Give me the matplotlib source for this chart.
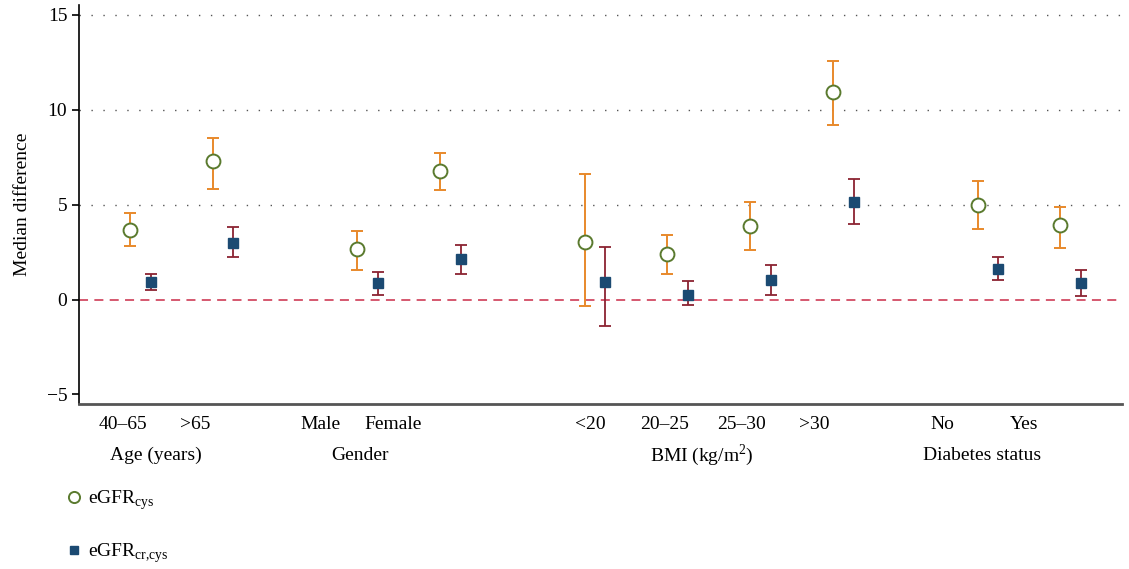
import matplotlib.pyplot as plt

plt.rcParams['font.family'] = ['Liberation Serif', 'DejaVu Serif']
plt.rcParams['mathtext.fontset'] = 'custom'
plt.rcParams['mathtext.rm'] = 'Liberation Serif'

# categories and their x positions (grouped)
categories = ['40–65', '>65', 'Male', 'Female', '<20', '20–25', '25–30', '>30', 'No', 'Yes']
xpos = [0, 1, 2.75, 3.75, 5.5, 6.5, 7.5, 8.5, 10.25, 11.25]
groups = ['Age (years)', 'Gender', 'BMI (kg/m$^{2}$)', 'Diabetes status']

# eGFR_cys: median difference with CI
cys_med = [3.65, 7.30, 2.68, 6.79, 3.04, 2.42, 3.89, 10.95, 4.96, 3.91]
cys_lo = [2.84, 5.84, 1.58, 5.79, -0.35, 1.37, 2.63, 9.21, 3.72, 2.72]
cys_hi = [4.56, 8.51, 3.63, 7.74, 6.60, 3.42, 5.12, 12.54, 6.25, 4.88]

# eGFR_cr,cys
crc_med = [0.93, 3.00, 0.88, 2.14, 0.91, 0.26, 1.04, 5.16, 1.63, 0.89]
crc_lo = [0.49, 2.26, 0.26, 1.32, -1.40, -0.30, 0.26, 3.98, 1.05, 0.16]
crc_hi = [1.37, 3.81, 1.46, 2.86, 2.75, 0.95, 1.81, 6.32, 2.26, 1.58]

fig = plt.figure(figsize=(11.29, 5.69), dpi=100)
ax = fig.add_axes([0.070, 0.29, 0.924, 0.701])

for yv in [5, 10, 15]:
    ax.axhline(yv, color='#555555', lw=1.0, dashes=(1, 7.6), zorder=0)
ax.axhline(0, color='#d24b63', lw=1.3, dashes=(5, 3.5), zorder=1)

off = 0.25
x1 = list(xpos)
x2 = [x + off for x in xpos]

ax.errorbar(x1, cys_med,
            yerr=[[m - l for m, l in zip(cys_med, cys_lo)],
                  [h - m for m, h in zip(cys_med, cys_hi)]],
            fmt='none', ecolor='#e8892b', elinewidth=1.4, capsize=4, capthick=1.4, zorder=2)
p1, = ax.plot(x1, cys_med, 'o', ms=10, mfc='white', mec='#5a7a2e', mew=1.4,
              ls='none', zorder=3, label=r'eGFR$_{\mathregular{cys}}$')

ax.errorbar(x2, crc_med,
            yerr=[[m - l for m, l in zip(crc_med, crc_lo)],
                  [h - m for m, h in zip(crc_med, crc_hi)]],
            fmt='none', ecolor='#8b2332', elinewidth=1.3, capsize=4, capthick=1.3, zorder=2)
p2, = ax.plot(x2, crc_med, 's', ms=6.5, mfc='#1b4a72', mec='#1b4a72',
              ls='none', zorder=3, label=r'eGFR$_{\mathregular{cr{,}cys}}$')

ax.set_xlim(-0.617, 12.0)
ax.set_ylim(-5.5, 15.5)
ax.set_yticks([-5, 0, 5, 10, 15])
ax.set_yticklabels(['\u22125', '0', '5', '10', '15'])
ax.tick_params(axis='y', labelsize=14, length=5, width=1.2, direction='out')
ax.set_ylabel('Median difference', fontsize=14, labelpad=11)

# tick labels sit slightly left of the points in the original
label_x = [-0.085, 0.786, 2.30, 3.18, 5.57, 6.47, 7.39, 8.28, 9.83, 10.81]
ax.set_xticks(label_x)
ax.set_xticklabels(categories)
ax.tick_params(axis='x', labelsize=14, length=0, pad=9)

group_x = [0.31, 2.78, 6.92, 10.31]
for gx, g in zip(group_x, groups):
    ax.text(gx, -8.2, g, ha='center', va='center', fontsize=14)

ax.spines['top'].set_visible(False)
ax.spines['right'].set_visible(False)
ax.spines['left'].set_linewidth(1.2)
ax.spines['bottom'].set_linewidth(2.0)
ax.spines['bottom'].set_color('#555555')

fig.legend(handles=[p1, p2], loc='upper left', bbox_to_anchor=(0.048, 0.158),
           frameon=False, fontsize=14, handlelength=1.0, handletextpad=0.25,
           labelspacing=1.5, borderpad=0, numpoints=1, markerscale=0.8)

fig.savefig('out.png', dpi=100)
